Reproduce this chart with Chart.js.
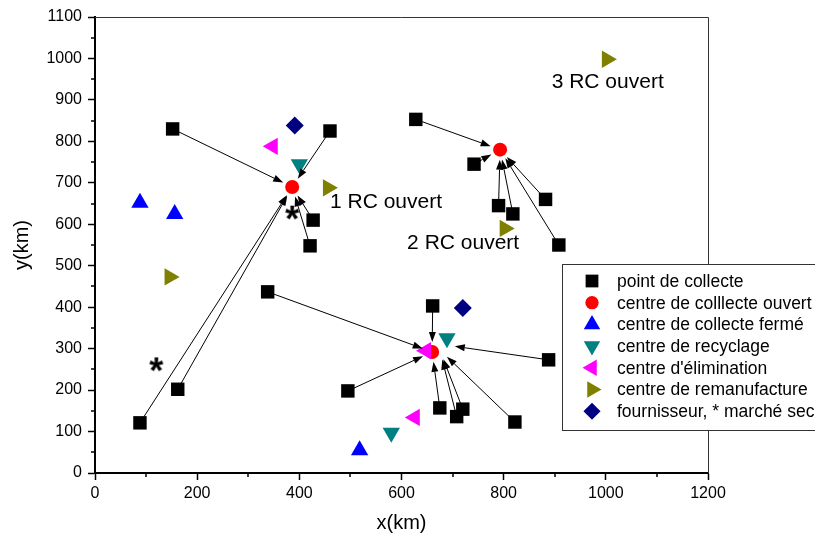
<!DOCTYPE html>
<html>
<head>
<meta charset="utf-8">
<script src="https://cdn.jsdelivr.net/npm/chart.js@4.4.0/dist/chart.umd.min.js"></script>
<style>
  html, body { margin: 0; padding: 0; background: #fff; }
</style>
</head>
<body>
<canvas id="c" width="815" height="540"></canvas>
<script>
const FONT = '"Liberation Sans", Arial, sans-serif';

// points de collecte
const collecteX = [152, 460, 628, 742, 790, 818, 882, 908, 427, 421, 338, 162, 88, 661, 888, 495, 675, 708, 720, 822];
const collecteY = [830, 825, 853, 745, 645, 625, 660, 550, 610, 548, 437, 202, 121, 403, 273, 198, 157, 136, 154, 123];
// centres
const ouvertX = [386, 793, 660];
const ouvertY = [690, 780, 292];
const fermeX = [88, 156, 518];
const fermeY = [652, 625, 55];
const recyclageX = [400, 689, 580];
const recyclageY = [745, 325, 97];
const eliminationX = [348, 648, 626];
const eliminationY = [788, 295, 134];
const remanufX = [456, 146, 1002, 802];
const remanufY = [688, 473, 998, 590];
const fournisseurX = [391, 720];
const fournisseurY = [838, 398];
const marcheX = [120, 386];
const marcheY = [262, 628];

// arrows: index of point de collecte -> target point
const arrowSrc  = [0, 1, 8, 9, 11, 12, 2, 3, 4, 5, 6, 7, 10, 15, 13, 16, 17, 18, 19, 14];
const arrowDstX = [386, 386, 386, 386, 386, 386, 793, 793, 793, 793, 793, 793, 660, 660, 660, 660, 675, 675, 675, 685];
const arrowDstY = [690, 690, 690, 690, 690, 690, 780, 780, 780, 780, 780, 780, 292, 292, 292, 292, 297, 297, 297, 309];

const notes = ['1 RC ouvert', '2 RC ouvert', '3 RC ouvert'];
const notesX = [460, 611, 894];
const notesY = [654, 555, 943];

const xTicks = { min: 0, max: 1200, step: 200 };
const yTicks = { min: 0, max: 1100, step: 100 };

const pts = (xs, ys) => xs.map((v, i) => ({ x: v, y: ys[i] }));

// asterisk marker
const starImg = document.createElement('canvas');
starImg.width = 26; starImg.height = 26;
{
  const s = starImg.getContext('2d');
  s.font = 'bold 36px ' + FONT;
  s.textAlign = 'center';
  s.textBaseline = 'alphabetic';
  const m = s.measureText('*');
  s.fillStyle = '#000';
  s.fillText('*', 13, 13 + (m.actualBoundingBoxAscent - m.actualBoundingBoxDescent) / 2);
}

const series = [
  { label: 'point de collecte', data: pts(collecteX, collecteY), pointStyle: 'rect', pointRadius: 9.5, color: '#000000', rot: 0 },
  { label: 'centre de colllecte ouvert', data: pts(ouvertX, ouvertY), pointStyle: 'circle', pointRadius: 7, color: '#ff0000', rot: 0 },
  { label: 'centre de collecte fermé', data: pts(fermeX, fermeY), pointStyle: 'triangle', pointRadius: 10, color: '#0000ff', rot: 0 },
  { label: 'centre de recyclage', data: pts(recyclageX, recyclageY), pointStyle: 'triangle', pointRadius: 10, color: '#008080', rot: 180 },
  { label: "centre d'élimination", data: pts(eliminationX, eliminationY), pointStyle: 'triangle', pointRadius: 10, color: '#ff00ff', rot: 270 },
  { label: 'centre de remanufacture', data: pts(remanufX, remanufY), pointStyle: 'triangle', pointRadius: 10, color: '#808000', rot: 90 },
  { label: 'fournisseur, * marché secondaire', data: pts(fournisseurX, fournisseurY), pointStyle: 'rectRot', pointRadius: 9, color: '#000080', rot: 0 },
];

const datasets = series.map((s, i) => ({
  label: s.label,
  data: s.data,
  pointStyle: s.pointStyle,
  pointRadius: s.pointRadius,
  pointHoverRadius: s.pointRadius,
  pointRotation: s.rot,
  pointBackgroundColor: s.color,
  pointBorderColor: s.color,
  pointBorderWidth: 0,
  showLine: false,
  order: series.length + 1 - i,
}));
datasets.push({
  label: 'marché secondaire',
  data: pts(marcheX, marcheY),
  pointStyle: starImg,
  showLine: false,
  order: 0,
});

const extras = {
  id: 'extras',
  afterDatasetsDraw(chart) {
    const { ctx, chartArea: a, scales: { x, y } } = chart;
    ctx.save();
    // frame top / right
    ctx.strokeStyle = '#333';
    ctx.lineWidth = 1;
    ctx.beginPath();
    ctx.moveTo(a.left, a.top + 0.5);
    ctx.lineTo(a.right + 0.5, a.top + 0.5);
    ctx.lineTo(a.right + 0.5, a.bottom);
    ctx.stroke();

    // minor ticks
    ctx.strokeStyle = '#000';
    ctx.lineWidth = 1.5;
    ctx.beginPath();
    for (let v = xTicks.min + xTicks.step / 2; v < xTicks.max; v += xTicks.step) {
      const px = Math.round(x.getPixelForValue(v));
      ctx.moveTo(px, a.bottom);
      ctx.lineTo(px, a.bottom + 4);
    }
    for (let v = yTicks.min + yTicks.step / 2; v < yTicks.max; v += yTicks.step) {
      const py = Math.round(y.getPixelForValue(v));
      ctx.moveTo(a.left, py);
      ctx.lineTo(a.left - 4, py);
    }
    ctx.stroke();

    // arrows
    const gap = 10, headLen = 10, hw = 3.5;
    ctx.strokeStyle = '#000';
    ctx.fillStyle = '#000';
    ctx.lineWidth = 1;
    arrowSrc.forEach((k, i) => {
      const x0 = x.getPixelForValue(collecteX[k]), y0 = y.getPixelForValue(collecteY[k]);
      const x1 = x.getPixelForValue(arrowDstX[i]), y1 = y.getPixelForValue(arrowDstY[i]);
      const dx = x1 - x0, dy = y1 - y0, len = Math.hypot(dx, dy);
      const ux = dx / len, uy = dy / len;
      const tx = x1 - ux * gap, ty = y1 - uy * gap;
      const bx = tx - ux * headLen, by = ty - uy * headLen;
      ctx.beginPath();
      ctx.moveTo(x0, y0);
      ctx.lineTo(bx, by);
      ctx.stroke();
      ctx.beginPath();
      ctx.moveTo(tx, ty);
      ctx.lineTo(bx - uy * hw, by + ux * hw);
      ctx.lineTo(bx + uy * hw, by - ux * hw);
      ctx.closePath();
      ctx.fill();
    });

    // annotations
    ctx.font = '21px ' + FONT;
    ctx.textAlign = 'left';
    ctx.textBaseline = 'middle';
    notes.forEach((t, i) => {
      ctx.fillText(t, x.getPixelForValue(notesX[i]), y.getPixelForValue(notesY[i]));
    });
    ctx.restore();
  },
  afterDraw(chart) {
    const ctx = chart.ctx;
    const left = 562.5, top = 264.5, bottom = 430.5;
    ctx.save();
    ctx.fillStyle = '#fff';
    ctx.fillRect(left, top, 300, bottom - top);
    ctx.strokeStyle = '#333';
    ctx.lineWidth = 1;
    ctx.strokeRect(left, top, 300, bottom - top);
    ctx.font = '17.5px ' + FONT;
    ctx.textAlign = 'left';
    ctx.textBaseline = 'middle';
    series.forEach((s, i) => {
      const cy = 281 + i * 21.7;
      ctx.fillStyle = s.color;
      Chart.helpers.drawPoint(ctx, { pointStyle: s.pointStyle, rotation: s.rot, radius: s.pointRadius * 0.95, borderWidth: 0 }, 592, cy);
      ctx.fillStyle = '#000';
      ctx.fillText(s.label, 617, cy + 1);
    });
    ctx.restore();
  }
};

Chart.defaults.color = '#000';
Chart.defaults.font.family = FONT;

new Chart(document.getElementById('c'), {
  type: 'scatter',
  data: { datasets },
  options: {
    responsive: false,
    animation: false,
    devicePixelRatio: 1,
    layout: { padding: { left: 0, right: 107, top: 17, bottom: 0 } },
    plugins: { legend: { display: false }, tooltip: { enabled: false } },
    scales: {
      x: {
        type: 'linear',
        min: xTicks.min, max: xTicks.max,
        ticks: { stepSize: xTicks.step, font: { size: 16 }, color: '#000', padding: 4, callback: v => String(v) },
        grid: { drawOnChartArea: false, drawTicks: true, tickLength: 7, tickColor: '#000', tickWidth: 1.5 },
        border: { display: true, color: '#000', width: 2 },
        title: { display: true, text: 'x(km)', font: { size: 20 }, color: '#000', padding: { top: 0, bottom: 5 } },
        afterFit: s => { s.height = 67; }
      },
      y: {
        type: 'linear',
        min: yTicks.min, max: yTicks.max,
        ticks: { stepSize: yTicks.step, font: { size: 16 }, color: '#000', padding: 6, callback: v => String(v) },
        grid: { drawOnChartArea: false, drawTicks: true, tickLength: 7, tickColor: '#000', tickWidth: 1.5 },
        border: { display: true, color: '#000', width: 2 },
        title: { display: true, text: 'y(km)', font: { size: 20 }, color: '#000', padding: { top: 10, bottom: 0 } },
        afterFit: s => { s.width = 95; }
      }
    }
  },
  plugins: [extras]
});
</script>
</body>
</html>
